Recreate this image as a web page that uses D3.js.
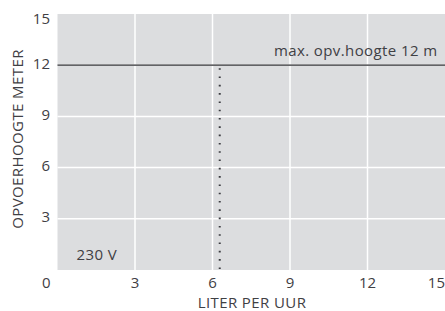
<!DOCTYPE html>
<html><head><meta charset="utf-8">
<script src="https://cdn.jsdelivr.net/npm/d3@7"></script>
<style>body{margin:0;background:#fff}text{font-family:"Open Sans",sans-serif}</style>
</head><body><svg id="c" width="445" height="311"></svg>
<script>
const xTicks = [0, 3, 6, 9, 12, 15];
const yTicks = [3, 6, 9, 12, 15];
const maxHeight = [12];
const flowAtMax = [6.28];
const labels = ["max. opv.hoogte 12 m", "230 V"];
const xTitle = "LITER PER UUR";
const yTitle = "OPVOERHOOGTE METER";

const svg = d3.select("#c");
const m = {l: 57.5, r: 445, t: 14, b: 270};
const x = d3.scaleLinear().domain([0, 15]).range([m.l, m.r]);
const y = d3.scaleLinear().domain([0, 15]).range([m.b, m.t]);
const txt = "#3f4044";
const fs = 15, ls = 0.4;

svg.append("rect").attr("x", m.l).attr("y", m.t).attr("width", m.r - m.l).attr("height", m.b - m.t).attr("fill", "#dcdddf");

svg.append("g").selectAll("line").data(xTicks.filter(d => d > 0 && d < 15)).join("line")
  .attr("x1", d => x(d)).attr("x2", d => x(d)).attr("y1", m.t).attr("y2", m.b)
  .attr("stroke", "#fff").attr("stroke-width", 1.5);
svg.append("g").selectAll("line").data(yTicks.filter(d => d > 0 && d < 15)).join("line")
  .attr("x1", m.l).attr("x2", m.r).attr("y1", d => y(d)).attr("y2", d => y(d))
  .attr("stroke", "#fff").attr("stroke-width", 1.5);

svg.append("line").attr("x1", m.l).attr("x2", m.r).attr("y1", y(maxHeight[0])).attr("y2", y(maxHeight[0]))
  .attr("stroke", "#2e2f33").attr("stroke-width", 1.2);

svg.append("line").attr("x1", x(flowAtMax[0])).attr("x2", x(flowAtMax[0]))
  .attr("y1", y(maxHeight[0]) + 3).attr("y2", y(0))
  .attr("stroke", "#3a3b40").attr("stroke-width", 2).attr("stroke-dasharray", "1.6 6.7");

svg.append("g").selectAll("text").data(xTicks).join("text")
  .attr("x", d => d === 0 ? x(d) - 7 : x(d))
  .attr("text-anchor", d => (d === 0 || d === 15) ? "end" : "middle")
  .attr("y", 287.5).attr("font-size", fs).attr("fill", txt).text(d => d);

svg.append("g").selectAll("text").data(yTicks).join("text")
  .attr("x", 50).attr("text-anchor", "end")
  .attr("y", d => d === 15 ? 23.5 : y(d) + 3.5)
  .attr("font-size", fs).attr("fill", txt).text(d => d);

svg.append("text").attr("x", 437.5).attr("y", 56).attr("text-anchor", "end")
  .attr("font-size", fs).attr("letter-spacing", ls).attr("fill", txt).text(labels[0]);
svg.append("text").attr("x", 76.5).attr("y", 260)
  .attr("font-size", fs).attr("letter-spacing", ls).attr("fill", txt).text(labels[1]);

svg.append("text").attr("x", 252).attr("y", 307.5).attr("text-anchor", "middle")
  .attr("font-size", fs).attr("letter-spacing", ls).attr("fill", txt).text(xTitle);
svg.append("text").attr("transform", "translate(23,139) rotate(-90)").attr("text-anchor", "middle")
  .attr("font-size", fs).attr("letter-spacing", ls).attr("fill", txt).text(yTitle);
</script></body></html>
